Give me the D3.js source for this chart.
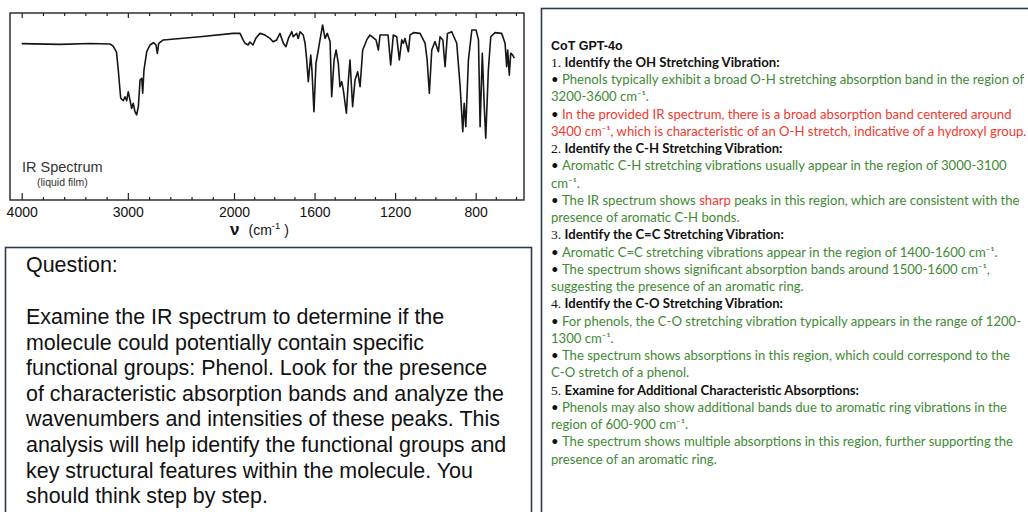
<!DOCTYPE html>
<html>
<head>
<meta charset="utf-8">
<script src="https://cdn.jsdelivr.net/npm/d3@7"></script>
<style>
  body { margin: 0; background: #fff; }
  svg { display: block; }
</style>
</head>
<body>
<svg id="chart" width="1028" height="512"></svg>
<script>
// spectrum: wavenumber (cm-1) and transmittance (%)
const wavenumber = [4000, 3639, 3356, 3168, 3140, 3107, 3090, 3074, 3067, 3043, 3027, 3011, 2996, 2980, 2964,
  2949, 2933, 2917, 2901, 2885, 2869, 2860, 2848, 2822, 2791, 2760, 2735, 2722, 2709, 2666, 2320, 2009,
  1970, 1955, 1945, 1930, 1921, 1906, 1891, 1871, 1846, 1821, 1806, 1788, 1772, 1755, 1742, 1730, 1713,
  1706, 1689, 1681, 1672, 1656, 1647, 1639, 1631, 1619, 1613, 1603, 1593, 1584, 1573, 1560, 1548, 1537,
  1523, 1515, 1503, 1493, 1482, 1474, 1465, 1457, 1442, 1432, 1424, 1411, 1399, 1386, 1374, 1361, 1341,
  1325, 1295, 1283, 1275, 1235, 1222, 1209, 1192, 1179, 1167, 1159, 1151, 1134, 1126, 1109, 1076, 1051,
  1041, 1030, 1018, 1002, 985, 977, 963, 952, 940, 919, 894, 877, 864, 857, 849, 836, 819, 798, 786, 778,
  767, 758, 750, 737, 725, 704, 671, 654, 646, 641, 633, 626, 616, 608];
const transmittance = [83.6, 83.2, 83.7, 83.4, 82.4, 79.1, 69.5, 58.8, 54.4, 53.1, 55.2, 53.1, 57.9, 53.5, 49.0,
  51.7, 47.2, 45.5, 49.9, 64.2, 65.1, 57.1, 69.5, 79.3, 82.9, 84.1, 82.9, 78.4, 83.8, 85.6, 87.3, 89.1,
  89.1, 85.6, 83.8, 82.9, 84.5, 82.9, 86.6, 89.1, 88.2, 86.4, 84.6, 85.6, 89.1, 83.8, 82.0, 86.4, 90.0,
  87.3, 89.1, 86.4, 90.0, 88.2, 83.8, 74.9, 63.3, 77.5, 69.5, 47.2, 73.1, 78.5, 85.6, 93.6, 86.4, 89.1,
  84.7, 55.2, 74.9, 80.2, 73.1, 60.6, 63.3, 58.8, 46.4, 64.2, 74.9, 49.9, 64.2, 68.6, 60.6, 80.2, 85.6,
  88.2, 85.6, 80.2, 88.2, 88.2, 72.2, 88.2, 87.3, 74.9, 85.6, 83.8, 86.4, 79.3, 88.2, 89.5, 89.1, 83.8,
  74.9, 57.1, 80.2, 84.7, 79.3, 87.3, 85.6, 71.3, 89.1, 90.0, 83.8, 60.6, 36.5, 51.7, 39.2, 74.9, 90.9, 90.9, 85.6, 39.2,
  78.5, 51.7, 33.0, 69.5, 87.3, 89.5, 89.1, 83.8, 71.3, 80.2, 66.8, 78.5, 77.5, 75.8];

const majorTicks = [4000, 3000, 2000, 1600, 1200, 800];
const minorTicks = [3800, 3600, 3400, 3200, 2800, 2600, 2400, 2200,
  1900, 1800, 1700, 1500, 1400, 1300, 1100, 1000, 900, 700, 600];

const questionLines = [
  "Examine the IR spectrum to determine if the",
  "molecule could potentially contain specific",
  "functional groups: Phenol. Look for the presence",
  "of characteristic absorption bands and analyze the",
  "wavenumbers and intensities of these peaks. This",
  "analysis will help identify the functional groups and",
  "key structural features within the molecule. You",
  "should think step by step."
];

// n = serif number, b = bold heading, k = black bullet, g = green, r = red
const cotLines = [
  [["n", "1. "], ["b", "Identify the OH Stretching Vibration:"]],
  [["k", "• "], ["g", "Phenols typically exhibit a broad O-H stretching absorption band in the region of"]],
  [["g", "3200-3600 cm⁻¹."]],
  [["k", "• "], ["r", "In the provided IR spectrum, there is a broad absorption band centered around"]],
  [["r", "3400 cm⁻¹, which is characteristic of an O-H stretch, indicative of a hydroxyl group."]],
  [["n", "2. "], ["b", "Identify the C-H Stretching Vibration:"]],
  [["k", "• "], ["g", "Aromatic C-H stretching vibrations usually appear in the region of 3000-3100"]],
  [["g", "cm⁻¹."]],
  [["k", "• "], ["g", "The IR spectrum shows "], ["r", "sharp"], ["g", " peaks in this region, which are consistent with the"]],
  [["g", "presence of aromatic C-H bonds."]],
  [["n", "3. "], ["b", "Identify the C=C Stretching Vibration:"]],
  [["k", "• "], ["g", "Aromatic C=C stretching vibrations appear in the region of 1400-1600 cm⁻¹."]],
  [["k", "• "], ["g", "The spectrum shows significant absorption bands around 1500-1600 cm⁻¹,"]],
  [["g", "suggesting the presence of an aromatic ring."]],
  [["n", "4. "], ["b", "Identify the C-O Stretching Vibration:"]],
  [["k", "• "], ["g", "For phenols, the C-O stretching vibration typically appears in the range of 1200-"]],
  [["g", "1300 cm⁻¹."]],
  [["k", "• "], ["g", "The spectrum shows absorptions in this region, which could correspond to the"]],
  [["g", "C-O stretch of a phenol."]],
  [["n", "5. "], ["b", "Examine for Additional Characteristic Absorptions:"]],
  [["k", "• "], ["g", "Phenols may also show additional bands due to aromatic ring vibrations in the"]],
  [["g", "region of 600-900 cm⁻¹."]],
  [["k", "• "], ["g", "The spectrum shows multiple absorptions in this region, further supporting the"]],
  [["g", "presence of an aromatic ring."]]
];

const svg = d3.select('#chart');
const sans = 'Liberation Sans, Arial, Helvetica, sans-serif';

// ---- spectrum ----
const x = d3.scaleLinear().domain([4110, 2000, 560]).range([10, 234, 524]);
const y = d3.scaleLinear().domain([0, 100]).range([200, 13]);

const plot = svg.append('g');

plot.append('rect')
  .attr('x', x(4110)).attr('y', y(100))
  .attr('width', x(560) - x(4110)).attr('height', y(0) - y(100))
  .attr('fill', 'none').attr('stroke', '#222').attr('stroke-width', 1.4);

const axisStyle = (g) => {
  g.select('.domain').remove();
  g.selectAll('line').attr('stroke', '#222').attr('stroke-width', 1.2);
};

plot.append('g').attr('transform', 'translate(0,' + y(0) + ')')
  .call(d3.axisBottom(x).tickValues(majorTicks).tickSize(-7).tickPadding(7).tickFormat(d3.format('d')))
  .call(axisStyle)
  .call(g => g.selectAll('text').attr('fill', '#111').style('font', '14px ' + sans));

plot.append('g').attr('transform', 'translate(0,' + y(0) + ')')
  .call(d3.axisBottom(x).tickValues(minorTicks).tickSize(-3).tickFormat(''))
  .call(axisStyle);

plot.append('g').attr('transform', 'translate(0,' + y(100) + ')')
  .call(d3.axisTop(x).tickValues(majorTicks).tickSize(-5).tickFormat(''))
  .call(axisStyle);

plot.append('g').attr('transform', 'translate(0,' + y(100) + ')')
  .call(d3.axisTop(x).tickValues(minorTicks).tickSize(-3).tickFormat(''))
  .call(axisStyle);

const line = d3.line()
  .x((d, i) => x(wavenumber[i]))
  .y(d => y(d));

plot.append('path')
  .datum(transmittance)
  .attr('d', line)
  .attr('fill', 'none')
  .attr('stroke', '#161616')
  .attr('stroke-width', 1.6)
  .attr('stroke-linejoin', 'round');

plot.append('text').attr('x', 22).attr('y', 172)
  .attr('fill', '#333').style('font', '14.5px ' + sans).text('IR Spectrum');
plot.append('text').attr('x', 37).attr('y', 186)
  .attr('fill', '#333').style('font', '10.5px ' + sans).text('(liquid film)');

const nu = plot.append('text').attr('x', 230).attr('y', 235)
  .attr('fill', '#111').style('font', '14px ' + sans);
nu.append('tspan').style('font', 'bold 17px ' + sans).text('ν');
nu.append('tspan').attr('dx', 9).text('(cm');
nu.append('tspan').attr('dy', -6).style('font-size', '9.5px').text('-1');
nu.append('tspan').attr('dy', 6).text(' )');

// ---- question box ----
svg.append('rect')
  .attr('x', 5.5).attr('y', 247.5).attr('width', 526).attr('height', 290)
  .attr('fill', 'none').attr('stroke', '#2e3a4c').attr('stroke-width', 1.6);

const probe = svg.append('text').style('font', '20px ' + sans).text(questionLines[3]);
const qSize = 20 * 478 / probe.node().getComputedTextLength();
probe.remove();

svg.append('text').attr('x', 26).attr('y', 272)
  .attr('fill', '#111').style('font', qSize + 'px ' + sans).text('Question:');

svg.append('g').selectAll('text')
  .data(questionLines)
  .join('text')
  .attr('x', 26)
  .attr('y', (d, i) => 324 + i * 25.6)
  .attr('fill', '#111')
  .style('font', qSize + 'px ' + sans)
  .text(d => d);

// ---- CoT panel ----
svg.append('rect')
  .attr('x', 541.5).attr('y', 8.5).attr('width', 520).attr('height', 540)
  .attr('fill', 'none').attr('stroke', '#2c3a4c').attr('stroke-width', 1.6);

svg.append('text').attr('x', 551).attr('y', 49.5)
  .attr('fill', '#111').style('font', 'bold 12.5px ' + sans).text('CoT GPT-4o');

const colors = { n: '#111', b: '#111', k: '#111', g: '#3f8a34', r: '#f2392e' };
const body = 'Lato, "Open Sans", sans-serif';

const cot = svg.append('g');
const rows = cot.selectAll('text')
  .data(cotLines)
  .join('text')
  .attr('x', 0)
  .attr('y', (d, i) => 66.8 + i * 17.25)
  .style('font', '13px ' + body);

rows.selectAll('tspan')
  .data(d => d)
  .join('tspan')
  .attr('fill', d => colors[d[0]])
  .style('font-family', d => d[0] === 'n' ? 'Liberation Serif, serif' : null)
  .style('font-size', d => d[0] === 'n' ? '13.5px' : null)
  .style('font-weight', d => d[0] === 'b' ? 'bold' : null)
  .text(d => d[1]);

const wRef = rows.filter((d, i) => i === 4).node().getComputedTextLength();
cot.attr('transform', 'translate(551,0) scale(' + (476 / wRef) + ',1)');
</script>
</body>
</html>
